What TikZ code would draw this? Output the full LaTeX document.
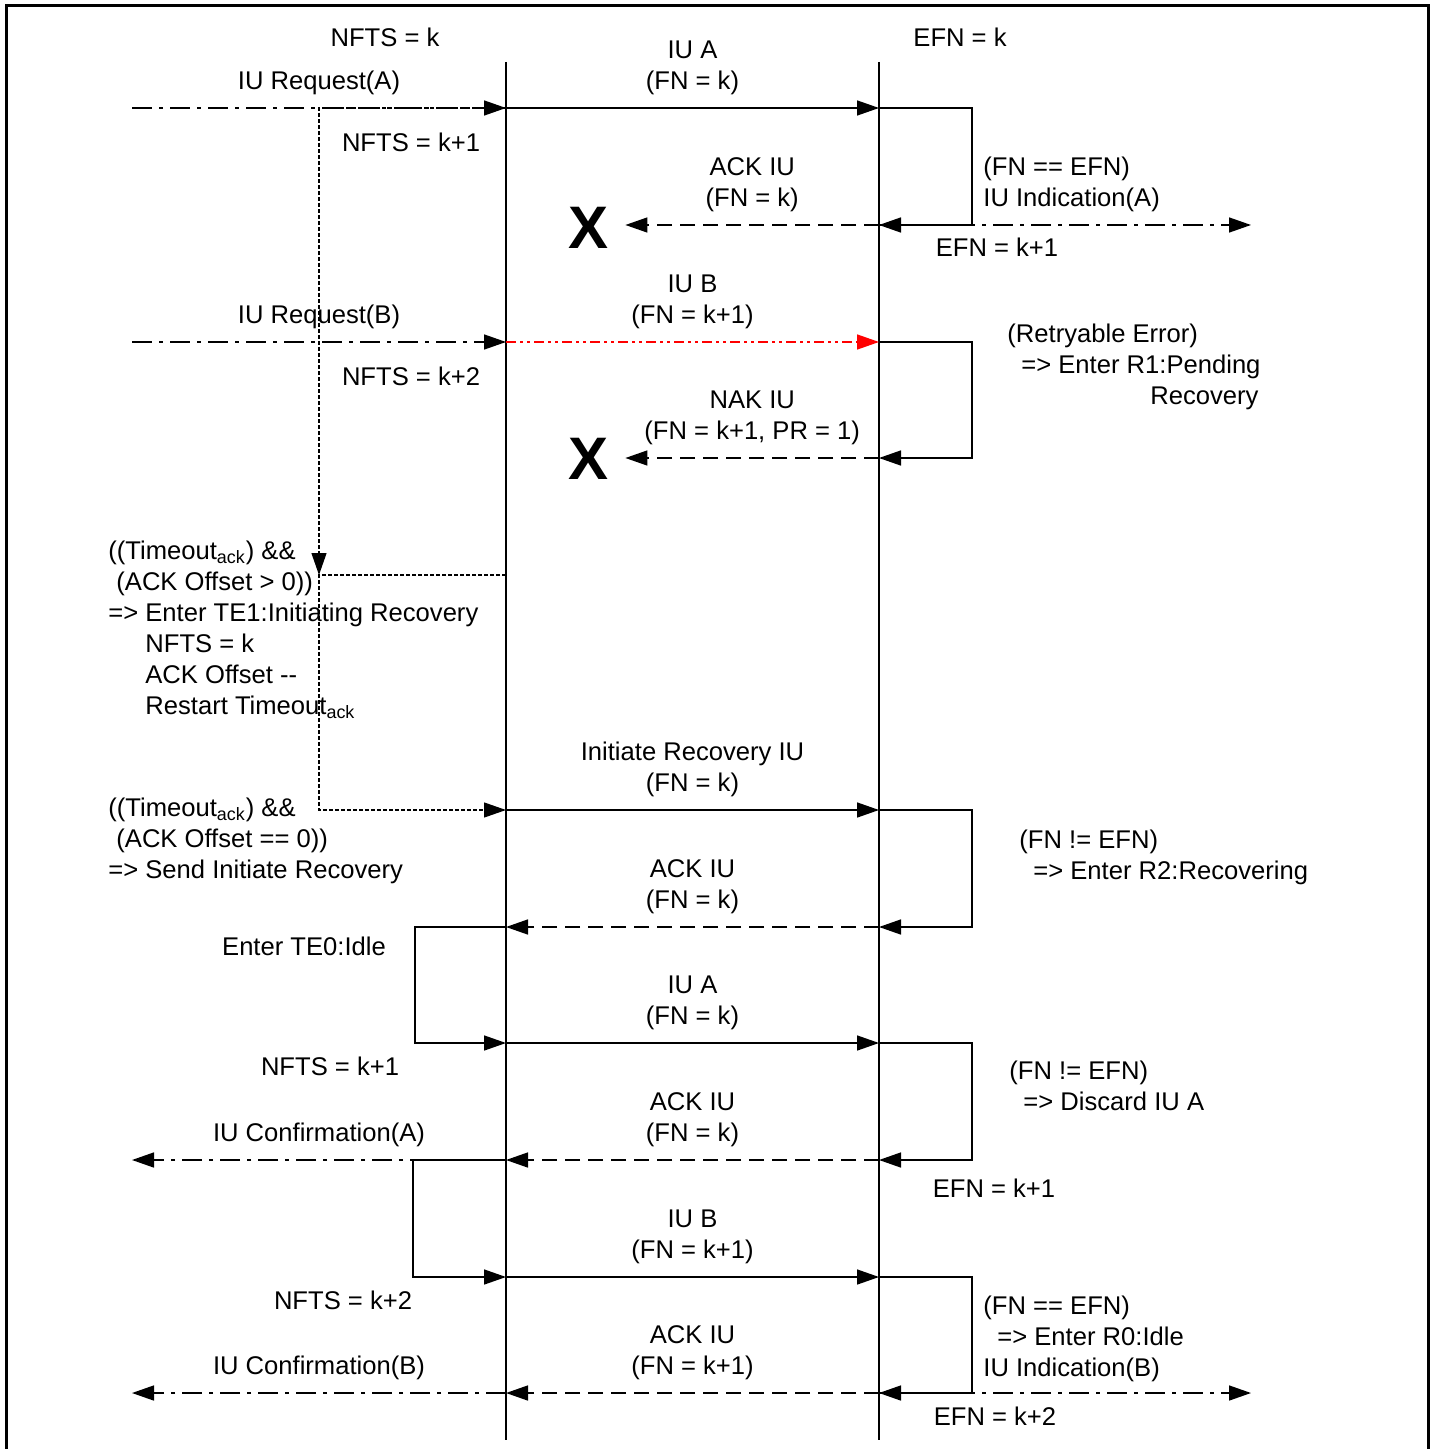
\documentclass[tikz,border=0pt]{standalone}
\usepackage{fontspec}
\setmainfont{Liberation Sans}
\usetikzlibrary{arrows.meta,positioning,calc}

\tikzset{
  every node/.style={font=\fontsize{12.8}{15.5}\selectfont},
  msg/.style={line width=0.75pt, -{Triangle[length=11pt,width=7.5pt]}},
  ack/.style={msg, dash pattern=on 7.5pt off 4pt},
  prim/.style={msg, dash pattern=on 10pt off 3.5pt on 2pt off 3.5pt},
  lost/.style={msg, red, dash pattern=on 5pt off 2pt on 1.5pt off 2pt on 1.5pt off 2pt},
  tmo/.style={msg, line width=0.6pt, dash pattern=on 2pt off 1pt},
  lbl/.style={above=3pt, align=center, text=black},
  state/.style={anchor=base west, align=left, inner sep=0pt},
  drop/.style={font=\fontsize{30}{32}\selectfont\bfseries, inner xsep=8.5pt, inner ysep=2pt},
}

\begin{document}
\begin{tikzpicture}[x=0.5pt,y=-0.5pt]
\useasboundingbox (0,0) rectangle (1435,1449);
% frame, open at the bottom
\draw[line width=1.5pt] (6,1449) -- (6,6) -- (1428,6) -- (1428,1449);

% lifelines
\coordinate (lt) at (506,62);
\coordinate (lb) at (506,1440);
\coordinate (rt) at (879,62);
\coordinate (rb) at (879,1440);
\draw[line width=0.75pt] (lt) -- (lb);
\draw[line width=0.75pt] (rt) -- (rb);

% message rows
\foreach \n/\y in {1/108,2/225,3/342,4/458,5/575,6/810,7/927,8/1043,9/1160,10/1277,11/1393} {
  \coordinate (L\n) at (506,\y);
  \coordinate (R\n) at (879,\y);
  \coordinate (E\n) at (972,\y);
  \coordinate (P\n) at (132,\y);
  \coordinate (Q\n) at (1251,\y);
}
\coordinate (T5) at (319,575);
\coordinate (K7) at (415,927);
\coordinate (K9) at (413,1160);

\node (nftsk) at (385,37) {NFTS = k};
\node (efnk) at (960,37) {EFN = k};

% IU A, ACK lost
\draw[prim] (P1) -- node[lbl] (reqa) {IU Request(A)} (L1);
\draw[msg] (L1) -- node[lbl] (iua) {IU A\\(FN = k)} (R1);
\node (nfts1) at (411,142) {NFTS = k+1};
\draw[msg] (R1) -| (E2) -- (R2);
\draw[prim] (R2) -- (Q2);
\node[state] (inda) at (983,207) {(FN == EFN)\\IU Indication(A)};
\node (efn1) at (997,247) {EFN = k+1};
\node[drop] (x1) at (588,228) {X};
\draw[ack] (R2) -- node[lbl] (acka) {ACK IU\\(FN = k)} (x1.east |- R2);

% IU B, error
\draw[prim] (P3) -- node[lbl] (reqb) {IU Request(B)} (L3);
\draw[lost] (L3) -- node[lbl] (iub) {IU B\\(FN = k+1)} (R3);
\node (nfts2) at (411,376) {NFTS = k+2};
\draw[msg] (R3) -| (E4) -- (R4);
\node[state] (retry) at (1007,404) {(Retryable Error)\\\hspace*{7pt}=> Enter R1:Pending\\\hspace*{71.5pt}Recovery};
\node[drop] (x2) at (588,459) {X};
\draw[ack] (R4) -- node[lbl] (nak) {NAK IU\\(FN = k+1, PR = 1)} (x2.east |- R4);

% timeout
\draw[tmo] (L1) -| (T5);
\draw[tmo] (L5) -- (T5) |- (L6);
\node[state] (to1) at (108,714) {((Timeout\textsubscript{ack}) \&\&\\\hspace*{4pt}(ACK Offset > 0))\\=> Enter TE1:Initiating Recovery\\\hspace*{18.5pt}NFTS = k\\\hspace*{18.5pt}ACK Offset -{}-\\\hspace*{18.5pt}Restart Timeout\textsubscript{ack}};
\node[state] (to2) at (108,878) {((Timeout\textsubscript{ack}) \&\&\\\hspace*{4pt}(ACK Offset == 0))\\=> Send Initiate Recovery};

% recovery
\draw[msg] (L6) -- node[lbl] (init) {Initiate Recovery IU\\(FN = k)} (R6);
\draw[msg] (R6) -| (E7) -- (R7);
\node[state] (rec) at (1019,879) {(FN != EFN)\\\hspace*{7pt}=> Enter R2:Recovering};
\draw[ack] (R7) -- node[lbl] (ackr) {ACK IU\\(FN = k)} (L7);
\draw[msg] (L7) -- (K7) |- (L8);
\node (idle) at (304,946) {Enter TE0:Idle};

% resend IU A
\draw[msg] (L8) -- node[lbl] (iua2) {IU A\\(FN = k)} (R8);
\node (nfts3) at (330,1066) {NFTS = k+1};
\draw[msg] (R8) -| (E9) -- (R9);
\node[state] (disc) at (1009,1110) {(FN != EFN)\\\hspace*{7pt}=> Discard IU A};
\draw[ack] (R9) -- node[lbl] (acka2) {ACK IU\\(FN = k)} (L9);
\draw[prim] (L9) -- node[lbl] (confa) {IU Confirmation(A)} (P9);
\node (efn2) at (994,1188) {EFN = k+1};
\draw[msg] (L9) -- (K9) |- (L10);

% resend IU B
\draw[msg] (L10) -- node[lbl] (iub2) {IU B\\(FN = k+1)} (R10);
\node (nfts4) at (343,1300) {NFTS = k+2};
\draw[msg] (R10) -| (E11) -- (R11);
\draw[prim] (R11) -- (Q11);
\node[state] (indb) at (983,1376) {(FN == EFN)\\\hspace*{7pt}=> Enter R0:Idle\\IU Indication(B)};
\draw[ack] (R11) -- node[lbl] (ackb) {ACK IU\\(FN = k+1)} (L11);
\draw[prim] (L11) -- node[lbl] (confb) {IU Confirmation(B)} (P11);
\node (efn3) at (995,1416) {EFN = k+2};
\end{tikzpicture}
\end{document}
